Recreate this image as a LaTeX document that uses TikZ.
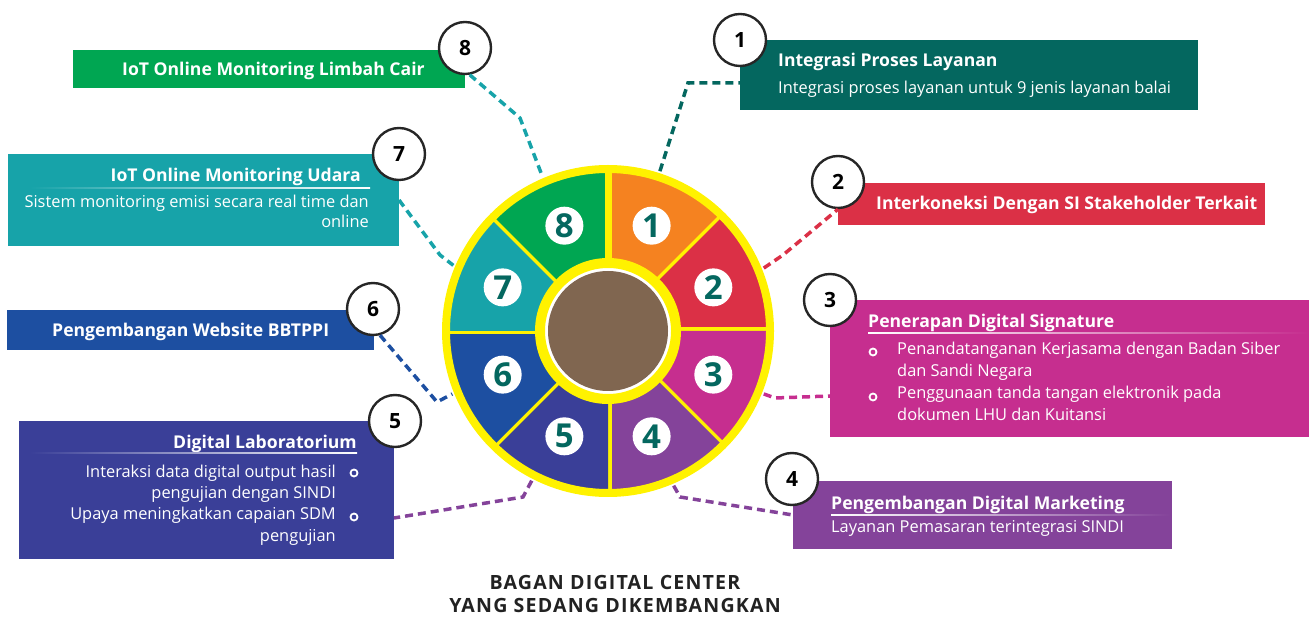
\documentclass[tikz,border=0pt]{standalone}
\usepackage{fontspec}
\setmainfont{Open Sans}
\usepackage{tikz}
\usetikzlibrary{positioning}
\definecolor{c1}{HTML}{F58220}
\definecolor{c2}{HTML}{DB3046}
\definecolor{c3}{HTML}{C62E8F}
\definecolor{c4}{HTML}{84439A}
\definecolor{c5}{HTML}{3A3F98}
\definecolor{c6}{HTML}{1D4FA1}
\definecolor{c7}{HTML}{17A3A9}
\definecolor{c8}{HTML}{00A652}
\definecolor{dteal}{HTML}{04675F}
\definecolor{ringyellow}{HTML}{FFF200}
\definecolor{hubbrown}{HTML}{806650}
\definecolor{titlegray}{HTML}{222222}
\tikzset{num node/.style={circle,fill=white,draw=black!85,line width=2.4pt,minimum size=52pt,inner sep=0pt,
            font=\fontsize{21}{21}\selectfont\bfseries},
         seg label/.style={circle,fill=white,minimum size=38pt,inner sep=0pt,text=dteal,
            font=\fontsize{33}{33}\selectfont\bfseries},
         info box/.style={rectangle,draw=none,inner sep=0pt,outer sep=0pt,anchor=north west},
         head text/.style={inner sep=0pt,text=white,font=\fontsize{17.6}{17.6}\selectfont\bfseries},
         body text/.style={inner sep=0pt,text=white,font=\fontsize{16.4}{16.4}\selectfont},
         link/.style={line width=3.5pt,dash pattern=on 8pt off 5pt}
}
\begin{document}
\begin{tikzpicture}[x=1pt,y=1pt]
\useasboundingbox (0,0) rectangle (1309,621);

\node[circle,minimum size=336pt,inner sep=0pt,outer sep=0pt] (wheel) at (608,290) {};

% boxes
\node[info box,fill=dteal,minimum width=458pt,minimum height=70pt] (b1) at (740,581) {};
\node[info box,fill=c2,minimum width=427pt,minimum height=42pt] (b2) at (838,438) {};
\node[info box,fill=c3,minimum width=479pt,minimum height=137pt] (b3) at (830,321) {};
\node[info box,fill=c4,minimum width=379pt,minimum height=68pt] (b4) at (793,140) {};
\node[info box,fill=c5,minimum width=375pt,minimum height=138pt] (b5) at (19,200) {};
\node[info box,fill=c6,minimum width=367pt,minimum height=40pt] (b6) at (7,311) {};
\node[info box,fill=c7,minimum width=391pt,minimum height=92pt] (b7) at (8,467) {};
\node[info box,fill=c8,minimum width=392pt,minimum height=38pt] (b8) at (73,571) {};

% numbered circles
\node[num node] (n1) at (740,581) {1};
\node[num node] (n2) at (838,439) {2};
\node[num node] (n3) at (830,321) {3};
\node[num node] (n4) at (792,142) {4};
\node[num node] (n5) at (395,200) {5};
\node[num node] (n6) at (373,312) {6};
\node[num node] (n7) at (399,467) {7};
\node[num node] (n8) at (465,573) {8};

% connectors
\draw[link,dteal] (wheel.72) -- (688,538) -- ([yshift=-8pt]b1.west);
\draw[link,c2] (wheel.22) -- (783,366) -- (n2.south);
\draw[link,c3] (wheel.-22) -- (775,223) -- ([yshift=-27.5pt]b3.west);
\draw[link,c4] (wheel.-67) -- (680,124) -- (b4.west);
\draw[link,c4] (wheel.-117) -- (523,124) -- ([yshift=-28pt]b5.east);
\draw[link,c6] (n6.-75) -- (437,219) -- (wheel.-158);
\draw[link,c7] (b7.east) -- (440,366) -- (wheel.157);
\draw[link,c7] (n8.-80) -- (520,503) -- (wheel.113);

% wheel
\foreach \i/\a/\col in {1/45/c1,2/0/c2,3/-45/c3,4/-90/c4,5/-135/c5,6/180/c6,7/135/c7,8/90/c8}{
  \fill[\col] ([shift={(\a:70)}]wheel.center) arc[start angle=\a,end angle=\a+45,radius=70]
    -- ([shift={(\a+45:160)}]wheel.center) arc[start angle=\a+45,end angle=\a,radius=160] -- cycle;
  \draw[ringyellow,line width=7pt] ([shift={(\a:66)}]wheel.center) -- ([shift={(\a:164)}]wheel.center);
}
\draw[ringyellow,line width=8pt] (wheel.center) circle[radius=162];
\draw[ringyellow,line width=10pt] (wheel.center) circle[radius=68];
\node[circle,fill=hubbrown,minimum size=120pt,inner sep=0pt] (hub) at (wheel.center) {};
\foreach \i/\a in {1/67.5,2/22.5,3/-22.5,4/-67.5,5/-112.5,6/-157.5,7/157.5,8/112.5}
  \node[seg label] (s\i) at ([shift={(\a:114)}]wheel.center) {\i};

% texts
\node[head text,anchor=base west] (t1a) at (778,554) {Integrasi Proses Layanan};
\node[body text,anchor=base west] (t1b) at (778,527) {Integrasi proses layanan untuk 9 jenis layanan balai};

\node[head text,anchor=base west] (t2) at (876,411) {Interkoneksi Dengan SI Stakeholder Terkait};

\node[head text,anchor=base west] (t3) at (868,293) {Penerapan Digital Signature};
\shade[left color=white,right color=c3] (868,287.3) rectangle (1309,288.7);
\draw[white,line width=1.8pt] (873,269) circle[radius=3.5];
\draw[white,line width=1.8pt] (873,224) circle[radius=3.5];
\node[body text,anchor=base west] (t3a) at (897,266) {Penandatanganan Kerjasama dengan Badan Siber};
\node[body text,anchor=base west] (t3b) at (897,244) {dan Sandi Negara};
\node[body text,anchor=base west] (t3c) at (897,222) {Penggunaan tanda tangan elektronik pada};
\node[body text,anchor=base west] (t3d) at (897,200) {dokumen LHU dan Kuitansi};

\node[head text,anchor=base west] (t4a) at (831,111) {Pengembangan Digital Marketing};
\shade[left color=white,right color=c4] (831,105.3) rectangle (1170,106.7);
\node[body text,anchor=base west] (t4b) at (831,88) {Layanan Pemasaran terintegrasi SINDI};

\node[head text,anchor=base east] (t5) at (357,172) {Digital Laboratorium};
\shade[left color=c5,right color=white] (30,167.3) rectangle (357,168.7);
\draw[white,line width=1.8pt] (354,148) circle[radius=3.5];
\draw[white,line width=1.8pt] (354,104) circle[radius=3.5];
\node[body text,anchor=base east] (t5a) at (336,143) {Interaksi data digital output hasil};
\node[body text,anchor=base east] (t5b) at (336,122) {pengujian dengan SINDI};
\node[body text,anchor=base east] (t5c) at (336,101) {Upaya meningkatkan capaian SDM};
\node[body text,anchor=base east] (t5d) at (336,79) {pengujian};

\node[head text,anchor=base west] (t6) at (52,284) {Pengembangan Website BBTPPI};

\node[head text,anchor=base east] (t7) at (361,439) {IoT Online Monitoring Udara};
\shade[left color=c7,right color=white] (30,432.3) rectangle (370,433.7);
\node[body text,anchor=base east] (t7a) at (369,413) {Sistem monitoring emisi secara real time dan};
\node[body text,anchor=base east] (t7b) at (369,393) {online};

\node[head text,anchor=base west] (t8) at (122,545) {IoT Online Monitoring Limbah Cair};

\node[head text,text=titlegray,font=\fontsize{19.6}{19.6}\selectfont\bfseries\addfontfeature{LetterSpace=6},anchor=base] (cap1) at (615,31) {BAGAN DIGITAL CENTER};
\node[head text,text=titlegray,font=\fontsize{19.6}{19.6}\selectfont\bfseries\addfontfeature{LetterSpace=6},anchor=base] (cap2) at (615,9) {YANG SEDANG DIKEMBANGKAN};
\end{tikzpicture}
\end{document}
